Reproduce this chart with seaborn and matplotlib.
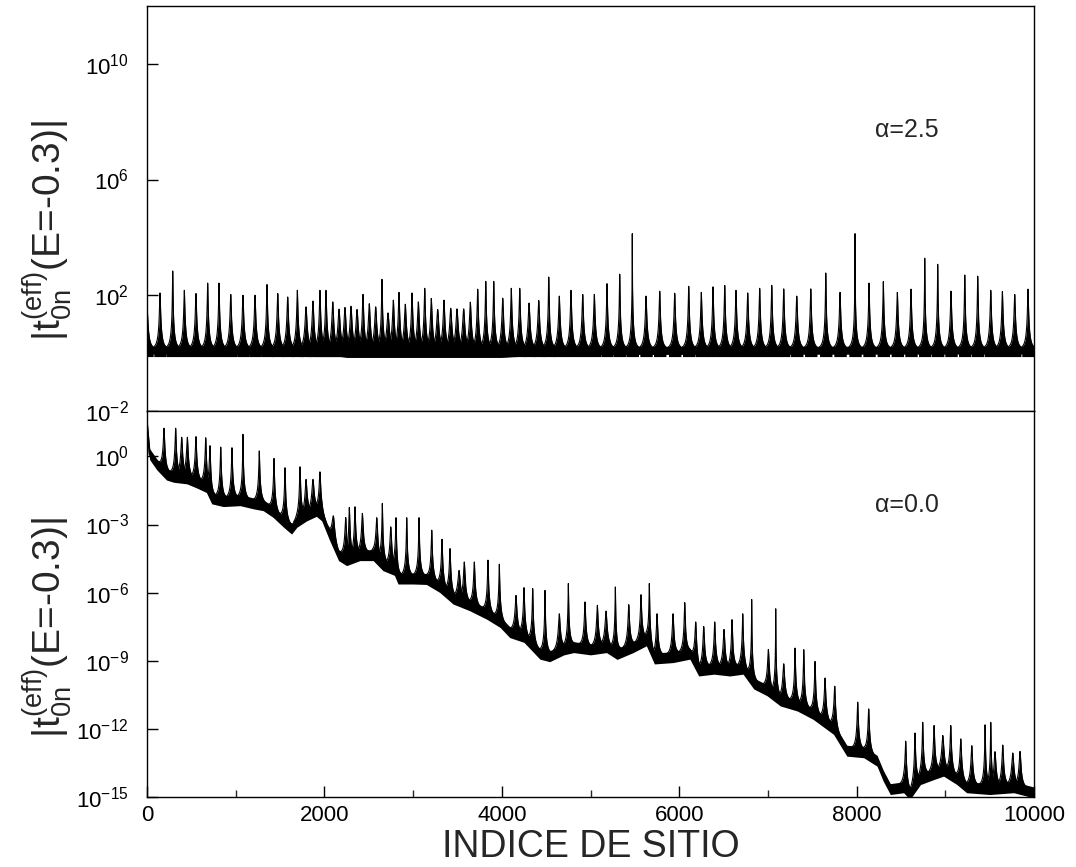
import numpy as np
import matplotlib
matplotlib.use("Agg")
import matplotlib.pyplot as plt
import seaborn as sns
from matplotlib.ticker import FixedLocator, LogFormatterSciNotation, NullLocator, MultipleLocator

sns.set_theme(style="ticks")
plt.rcParams["font.family"] = ["Liberation Sans", "DejaVu Sans"]
plt.rcParams["mathtext.fontset"] = "custom"
plt.rcParams["mathtext.rm"] = "Liberation Sans"
plt.rcParams["mathtext.it"] = "Liberation Sans:italic"
plt.rcParams["mathtext.bf"] = "Liberation Sans:bold"
plt.rcParams["axes.unicode_minus"] = False

# ---------------- alpha = 2.5 ----------------
# resonance positions (site index) and peak heights (log10 |t|)
peaks_a25_x = [0, 147, 290, 421, 552, 684, 812, 944, 1082, 1218,
               1353, 1474, 1586, 1695, 1793, 1871, 1950, 2018, 2094, 2165,
               2232, 2300, 2368, 2435, 2506, 2578, 2649, 2717, 2777, 2841,
               2912, 2988, 3059, 3131, 3205, 3277, 3348, 3424, 3495, 3570,
               3645, 3728, 3819, 3909, 4010, 4107, 4202, 4307, 4416, 4529,
               4648, 4780, 4912, 5043, 5186, 5329, 5471, 5626, 5780, 5949,
               6107, 6249, 6381, 6513, 6640, 6772, 6907, 7043, 7178, 7325,
               7483, 7652, 7813, 7982, 8140, 8301, 8459, 8613, 8768, 8914,
               9064, 9219, 9365, 9512, 9643, 9782, 9932]
peaks_a25_log = [1.62, 2.08, 2.84, 2.17, 2.06, 2.42, 2.42, 2.03, 2.00, 2.00,
                 2.37, 2.06, 1.94, 2.17, 1.60, 1.80, 2.17, 2.17, 1.77, 1.52,
                 1.58, 1.62, 1.51, 2.03, 1.71, 1.60, 2.55, 1.39, 1.83, 2.10,
                 1.69, 2.08, 1.77, 2.24, 1.89, 1.51, 1.83, 1.55, 1.53, 1.53,
                 1.76, 2.21, 2.48, 2.48, 1.90, 2.24, 2.24, 1.73, 1.82, 2.63,
                 1.97, 2.17, 2.03, 2.03, 2.40, 2.73, 4.13, 1.97, 2.14, 2.07,
                 2.31, 2.10, 2.29, 2.34, 2.17, 2.08, 2.24, 2.34, 2.22, 1.97,
                 2.22, 2.77, 2.10, 4.13, 2.42, 2.47, 2.10, 2.21, 3.28, 3.07,
                 2.14, 2.70, 2.66, 2.17, 2.13, 2.03, 2.21]
# oscillation band between resonances (log10 |t|)
band_a25_x = [0, 2000, 2250, 4000, 4500, 10000]
band_a25_lo = [-0.03, -0.03, -0.15, -0.15, -0.05, -0.03]
band_a25_hi = [0.22, 0.22, 0.22, 0.22, 0.22, 0.22]

# ---------------- alpha = 0.0 ----------------
# decaying background (site index, log10 |t|)
trend_a00_x = [0, 30, 110, 220, 300, 450, 560, 670, 730, 860,
               1050, 1200, 1310, 1420, 1540, 1630, 1690, 1800, 1910, 1970,
               2060, 2160, 2250, 2400, 2550, 2660, 2790, 2830, 3000, 3150,
               3300, 3450, 3640, 3830, 3980, 4090, 4250, 4430, 4540, 4700,
               4810, 5000, 5180, 5300, 5480, 5630, 5720, 5930, 6120, 6220,
               6390, 6570, 6720, 6840, 6990, 7140, 7330, 7510, 7740, 7890,
               8080, 8230, 8300, 8380, 8530, 8600, 8720, 8870, 8980, 9130,
               9240, 9500, 9770, 10000]
trend_a00_log = [1.40, 0.10, -0.35, -0.80, -0.90, -0.97, -1.15, -1.35, -1.85, -1.97,
                 -1.93, -2.07, -2.15, -2.44, -2.88, -3.18, -2.88, -2.60, -2.40, -2.60,
                 -3.47, -4.35, -4.57, -4.35, -4.35, -4.79, -5.00, -5.38, -5.38, -5.40,
                 -5.75, -6.26, -6.56, -6.93, -7.29, -7.74, -7.95, -8.69, -8.80, -8.50,
                 -8.40, -8.50, -8.40, -8.70, -8.40, -8.10, -8.90, -8.84, -8.69, -9.43,
                 -9.35, -9.43, -9.35, -10.00, -10.30, -10.75, -10.97, -11.34, -12.00, -12.96,
                 -13.03, -13.40, -14.06, -14.65, -14.57, -14.87, -14.21, -13.99, -13.84, -14.21,
                 -14.57, -14.65, -14.57, -14.80]
# resonance positions and peak heights (log10 |t|)
peaks_a00_x = [192, 323, 391, 455, 552, 662, 710, 831, 958, 1082,
               1266, 1432, 1556, 1725, 1793, 1871, 1950, 2101, 2240, 2281,
               2345, 2428, 2590, 2653, 2748, 2807, 2928, 3067, 3210, 3326,
               3416, 3518, 3577, 3690, 3844, 3972, 4160, 4250, 4348, 4487,
               4648, 4750, 4938, 5077, 5175, 5280, 5431, 5569, 5663, 5750,
               5930, 6062, 6186, 6276, 6400, 6505, 6595, 6716, 6817, 7005,
               7088, 7178, 7306, 7404, 7531, 7644, 7753, 8012, 8136, 8553,
               8658, 8745, 8873, 8971, 9061, 9174, 9298, 9448, 9512, 9560,
               9647, 9760, 9842]
peaks_a00_log = [1.24, 1.24, 0.84, 0.84, 0.87, 0.82, 0.47, 0.41, 0.38, 0.97,
                 0.24, -0.09, -0.50, -0.46, -1.01, -1.01, -0.68, -2.62, -2.69, -2.25,
                 -2.22, -2.51, -2.70, -2.07, -3.10, -2.70, -2.70, -2.70, -3.25, -3.65,
                 -4.06, -5.02, -4.65, -4.65, -4.57, -4.75, -6.12, -5.78, -5.82, -5.90,
                 -6.93, -5.60, -6.41, -6.56, -6.81, -5.75, -6.53, -6.09, -5.60, -6.93,
                 -6.93, -6.44, -7.29, -7.49, -7.29, -7.62, -7.19, -6.93, -6.30, -8.50,
                 -6.71, -9.13, -8.44, -8.51, -9.03, -9.76, -10.12, -10.82, -11.12, -12.54,
                 -12.18, -11.71, -11.85, -12.29, -11.85, -12.44, -12.74, -11.82, -11.71, -13.00,
                 -12.71, -13.06, -12.99]

x_ticks = [0, 2000, 4000, 6000, 8000, 10000]
y_ticks_a25 = [1e-2, 1e2, 1e6, 1e10]
y_ticks_a00 = [1e-15, 1e-12, 1e-9, 1e-6, 1e-3, 1e0]

TAIL = 1200.0   # strength of the Lorentzian wings of a resonance (sites^2)
HALF = 70.0     # half-width (sites) over which a cusp is drawn
BAND = 0.24     # half-thickness (decades) of the noisy background


def draw_cusp(ax, x0, peak_log, foot_at):
    """Lorentzian resonance rising from a (possibly sloped) background."""
    xs = x0 + np.linspace(-HALF, HALF, 281)
    foot = foot_at(xs)
    foot0 = foot_at(np.array([x0]))[0]
    ratio = 10 ** (peak_log - foot0) - 1.0
    if ratio <= 0:
        return
    wing = TAIL / ((xs - x0) ** 2 + TAIL / ratio)
    y = 10 ** foot * (1.0 + wing)
    ax.fill_between(xs, 10 ** (foot - BAND), y, color="black", lw=0)
    ax.plot(xs, y, color="black", lw=0.8)


fig = plt.figure(figsize=(10.76, 8.67), dpi=100)
ax_top = fig.add_axes([0.1366, 0.5260, 0.8244, 0.4671])
ax_bot = fig.add_axes([0.1366, 0.0807, 0.8244, 0.4453])

# ---- alpha = 2.5 panel ----
ax_top.set_yscale("log")
ax_top.fill_between(band_a25_x, 10 ** np.array(band_a25_lo), 10 ** np.array(band_a25_hi),
                    color="black", lw=0)
sns.lineplot(x=band_a25_x, y=10 ** np.array(band_a25_hi), ax=ax_top, color="black", lw=1)
for px, pl in zip(peaks_a25_x, peaks_a25_log):
    draw_cusp(ax_top, px, pl, lambda xs: np.full_like(xs, 0.12, dtype=float))
ax_top.set_xlim(0, 10000)
ax_top.set_ylim(1e-2, 1e12)

# ---- alpha = 0.0 panel ----
ax_bot.set_yscale("log")
t_log = np.array(trend_a00_log)
ax_bot.fill_between(trend_a00_x, 10 ** (t_log - BAND), 10 ** (t_log + BAND), color="black", lw=0)
sns.lineplot(x=trend_a00_x, y=10 ** t_log, ax=ax_bot, color="black", lw=1.5)


def background_a00(xs):
    return np.interp(xs, trend_a00_x, trend_a00_log) + 0.08


for px, pl in zip(peaks_a00_x, peaks_a00_log):
    draw_cusp(ax_bot, px, pl, background_a00)
ax_bot.set_xlim(0, 10000)
ax_bot.set_ylim(1e-15, 1e2)

for ax, yt in ((ax_top, y_ticks_a25), (ax_bot, y_ticks_a00)):
    ax.yaxis.set_major_locator(FixedLocator(yt))
    ax.yaxis.set_major_formatter(LogFormatterSciNotation())
    ax.yaxis.set_minor_locator(NullLocator())
    ax.xaxis.set_major_locator(FixedLocator(x_ticks))
    ax.xaxis.set_minor_locator(MultipleLocator(1000))
    for s in ax.spines.values():
        s.set_color("black")
        s.set_linewidth(1.0)
    ax.tick_params(axis="both", which="major", direction="in", length=8, width=1,
                   colors="black")
    ax.tick_params(axis="y", labelsize=16, pad=13)
    ax.tick_params(axis="x", labelsize=16, pad=6)
    ax.tick_params(axis="x", which="minor", direction="in", length=5, width=1)
    ax.set_ylabel(r"|t$_{\mathregular{0n}}^{\mathregular{(eff)}}$(E=-0.3)|", fontsize=28)

ax_top.tick_params(axis="x", which="both", length=0, labelbottom=False)

ax_top.yaxis.set_label_coords(-0.082, 0.445)
ax_bot.yaxis.set_label_coords(-0.082, 0.44)

ax_bot.set_xlabel("INDICE DE SITIO", fontsize=27, labelpad=2)

ax_top.text(0.857, 0.694, "\u03b1=2.5", transform=ax_top.transAxes, fontsize=18,
            ha="center", va="center")
ax_bot.text(0.857, 0.756, "\u03b1=0.0", transform=ax_bot.transAxes, fontsize=18,
            ha="center", va="center")

fig.savefig("out.png", dpi=100, facecolor="white")
